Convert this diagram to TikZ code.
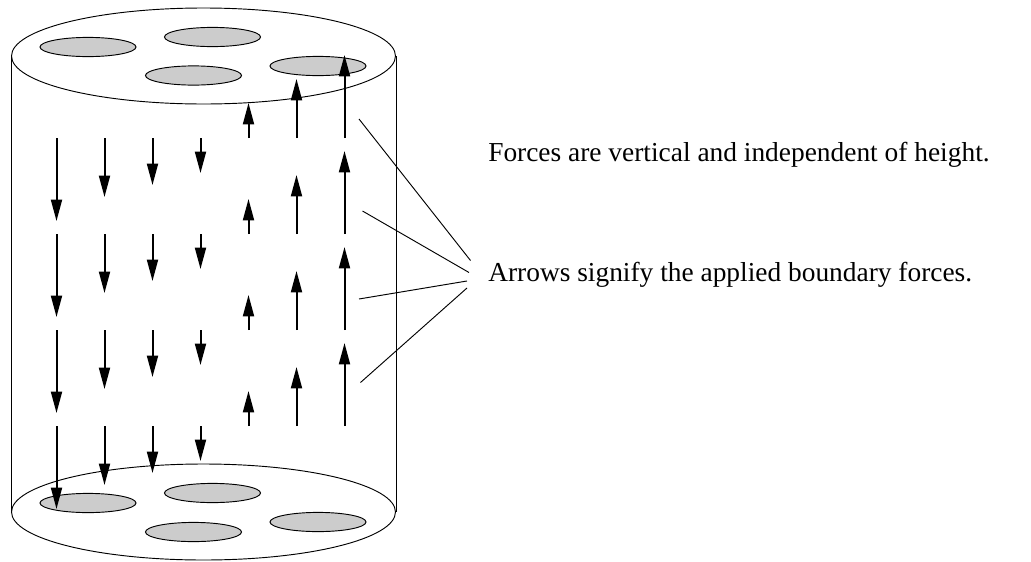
\documentclass[tikz,border=0pt]{standalone}
\usepackage{fontspec}
\setmainfont{Liberation Serif}
\usetikzlibrary{arrows.meta,shapes.geometric}
\tikzset{
  x=0.75pt,y=-0.75pt,
  outline/.style={line width=0.7pt,draw=black},
  capdisc/.style={outline,ellipse,minimum width=288pt,minimum height=72pt,inner sep=0pt},
  hole/.style={line width=0.7pt,draw=black,fill=black!20,ellipse,minimum width=72pt,minimum height=14.4pt,inner sep=0pt},
  force/.style={line width=1.5pt,-{Triangle[length=16pt,width=8.2pt]}},
  leader/.style={line width=0.7pt},
  label/.style={anchor=base west,inner sep=0pt,font=\fontsize{20.55pt}{25pt}\selectfont}
}
\begin{document}
\begin{tikzpicture}
\useasboundingbox (0,0) rectangle (1031,561);
% cylinder
\node[capdisc] (top) at (203.5,56) {};
\node[capdisc] (bot) at (203.5,512) {};
\draw[outline] (top.west) -- (bot.west);
\draw[outline] (top.east) -- (bot.east);
% holes
\node[hole] (h1) at (88,47) {};
\node[hole] (h2) at (212.5,37) {};
\node[hole] (h3) at (193.5,75.5) {};
\node[hole] (h4) at (318,66) {};
\node[hole] (h5) at (88,503) {};
\node[hole] (h6) at (212.5,493) {};
\node[hole] (h7) at (193.5,532) {};
\node[hole] (h8) at (318,522) {};
% forces
\foreach \r/\y in {1/138,2/234,3/330,4/426}{
  \foreach \c/\x/\l in {1/56.5/83,2/104.5/59,3/152.5/47,4/200.5/35}{
    \coordinate (d\c\r a) at (\x,\y);
    \coordinate (d\c\r b) at (\x,\y+\l);
    \draw[force] (d\c\r a) -- (d\c\r b);
  }
  \foreach \c/\x/\l in {5/248.5/35,6/296.5/59,7/344.5/83}{
    \coordinate (u\c\r a) at (\x,\y);
    \coordinate (u\c\r b) at (\x,\y-\l);
    \draw[force] (u\c\r a) -- (u\c\r b);
  }
}
% labels
\node[label] (t1) at (488,161.5) {Forces are vertical and independent of height.};
\node[label] (t2) at (488,281.5) {Arrows signify the applied boundary forces.};
% leaders
\coordinate (l1a) at (359,119);   \coordinate (l1b) at (470.5,260.5);
\coordinate (l2a) at (362.5,211); \coordinate (l2b) at (469,272.5);
\coordinate (l3a) at (359,299);   \coordinate (l3b) at (467,281);
\coordinate (l4a) at (360.5,382.5); \coordinate (l4b) at (467,288);
\draw[leader] (l1a) -- (l1b);
\draw[leader] (l2a) -- (l2b);
\draw[leader] (l3a) -- (l3b);
\draw[leader] (l4a) -- (l4b);
\end{tikzpicture}
\end{document}
